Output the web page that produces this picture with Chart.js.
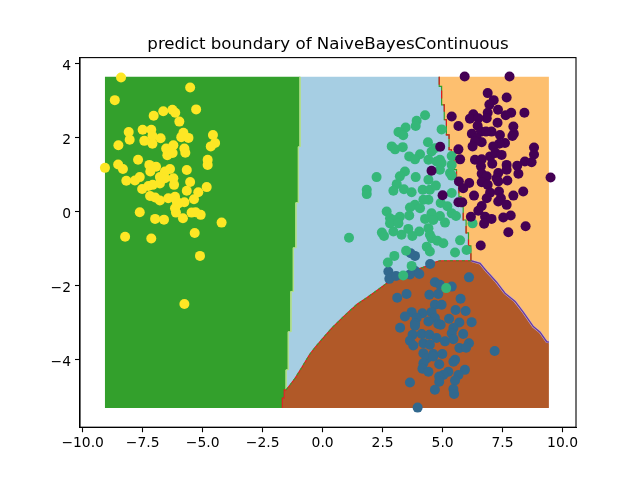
<!DOCTYPE html>
<html>
<head>
<meta charset="utf-8">
<title>predict boundary of NaiveBayesContinuous</title>
<script src="https://cdn.jsdelivr.net/npm/chart.js@4"></script>
<style>
    body { margin: 0; background: #fff; }
    canvas { display: block; }
</style>
</head>
<body>
<canvas id="graph_zone" width="640" height="480"></canvas>
<script>
// tick labels
const xTickValues = [-10, -7.5, -5, -2.5, 0, 2.5, 5, 7.5, 10];
const yTickValues = [-4, -2, 0, 2, 4];

// extent of the prediction grid
const gridLeft = -9.07;
const gridRight = 9.43;
const gridTop = 3.65;
const gridBottom = -5.30;

// decision boundaries
const greenBlueX = [-0.94, -0.94, -1.01, -1.01, -1.11, -1.11, -1.22, -1.22, -1.32, -1.32, -1.43, -1.43, -1.52, -1.52];
const greenBlueY = [3.65, 1.76, 1.76, 0.25, 0.25, -0.97, -0.97, -2.15, -2.15, -3.24, -3.24, -4.27, -4.27, -4.81];
const greenBrownX = [-1.52, -1.60, -1.60, -1.68, -1.68];
const greenBrownY = [-4.81, -4.81, -5.03, -5.03, -5.30];
const blueBrownX = [-1.52, -1.36, -1.15, -0.87, -0.55, -0.32, -0.01, 0.38, 0.73, 1.07, 1.45, 1.84, 2.25, 2.67, 3.22, 3.77, 4.27, 4.56, 4.89, 6.18];
const blueBrownY = [-4.81, -4.68, -4.50, -4.21, -3.86, -3.67, -3.43, -3.14, -2.92, -2.71, -2.49, -2.32, -2.13, -1.93, -1.76, -1.59, -1.48, -1.38, -1.32, -1.32];
const blueOrangeX = [4.86, 4.86, 4.96, 4.96, 5.07, 5.07, 5.16, 5.16, 5.27, 5.27, 5.37, 5.37, 5.47, 5.47, 5.58, 5.58, 5.68, 5.68, 5.77, 5.77, 5.86, 5.86, 5.98, 5.98, 6.08, 6.08, 6.18, 6.18];
const blueOrangeY = [3.65, 3.39, 3.39, 2.89, 2.89, 2.49, 2.49, 2.08, 2.08, 1.68, 1.68, 1.49, 1.49, 1.14, 1.14, 0.78, 0.78, 0.41, 0.41, 0.14, 0.14, -0.22, -0.22, -0.57, -0.57, -0.92, -0.92, -1.32];
const orangeBrownX = [6.18, 6.56, 6.84, 6.97, 7.25, 7.60, 8.02, 8.36, 8.78, 9.06, 9.34, 9.43];
const orangeBrownY = [-1.32, -1.39, -1.61, -1.70, -1.90, -2.20, -2.42, -2.71, -3.10, -3.25, -3.51, -3.52];

// samples of class 3
const yellowX = [-8.40, -5.52, -8.66, -5.27, -7.04, -6.64, -6.26, -6.14, -5.97, -8.08, -7.50, -7.14, -4.57, -5.80, -8.04, -7.43, -7.09, -7.09, -6.75, -5.89, -5.59, -4.48, -4.66, -8.51, -6.52, -6.22, -6.47, -6.25, -5.76, -5.72, -7.69, -4.79, -4.79, -9.07, -8.52, -8.32, -7.22, -6.94, -7.18, -6.36, -5.66, -6.57, -8.18, -7.82, -7.62, -6.78, -6.22, -6.57, -5.52, -4.83, -7.52, -7.26, -7.08, -6.78, -6.19, -5.66, -5.18, -5.36, -7.19, -6.98, -6.78, -6.43, -6.15, -6.08, -5.76, -6.15, -6.01, -6.11, -7.62, -5.46, -5.29, -5.08, -5.82, -6.98, -6.61, -4.21, -5.33, -8.23, -7.14, -5.11, -5.76];
const yellowY = [3.63, 3.36, 3.02, 2.77, 2.60, 2.72, 2.76, 2.68, 2.44, 2.16, 2.22, 2.22, 2.08, 2.14, 1.95, 1.92, 2.05, 1.84, 1.99, 2.02, 2.00, 1.86, 1.77, 1.80, 1.71, 1.80, 1.53, 1.59, 1.71, 1.60, 1.41, 1.41, 1.27, 1.19, 1.28, 1.16, 1.27, 1.22, 1.09, 1.16, 1.13, 1.09, 0.84, 0.85, 0.94, 0.94, 0.91, 0.91, 0.81, 0.67, 0.62, 0.70, 0.73, 0.77, 0.73, 0.57, 0.53, 0.34, 0.43, 0.39, 0.31, 0.37, 0.41, 0.28, 0.26, 0.10, 0.23, -0.02, -0.01, -0.02, -0.01, -0.08, -0.17, -0.19, -0.21, -0.29, -0.57, -0.67, -0.72, -1.19, -2.49];

// samples of class 0
const purpleX = [5.92, 7.79, 6.88, 7.67, 7.13, 6.95, 7.31, 8.41, 7.86, 7.63, 6.88, 6.28, 6.14, 6.84, 5.38, 5.66, 7.29, 6.49, 6.46, 7.95, 6.60, 7.04, 6.81, 7.39, 6.22, 6.42, 7.97, 7.91, 6.63, 6.35, 7.60, 7.36, 7.11, 6.25, 8.81, 5.66, 4.90, 8.81, 5.73, 6.35, 6.63, 6.98, 7.21, 7.46, 7.07, 7.67, 8.43, 8.71, 8.11, 6.60, 7.67, 6.63, 6.84, 7.32, 8.16, 7.25, 7.70, 6.63, 7.32, 9.50, 5.68, 6.11, 5.86, 6.88, 6.98, 7.35, 6.31, 5.00, 8.36, 7.95, 6.84, 7.43, 7.32, 7.67, 5.66, 5.82, 6.63, 6.49, 7.84, 7.53, 6.77, 7.04, 6.18, 6.73, 8.46, 7.74, 6.59, 4.54];
const purpleY = [3.66, 3.66, 3.21, 3.09, 3.02, 2.90, 2.76, 2.68, 2.68, 2.61, 2.68, 2.64, 2.52, 2.53, 2.58, 2.32, 2.41, 2.53, 2.33, 2.31, 2.17, 2.17, 2.17, 2.08, 2.11, 1.99, 2.11, 2.05, 1.88, 1.90, 1.86, 1.84, 1.77, 1.77, 1.74, 1.69, 1.76, 1.55, 1.42, 1.41, 1.42, 1.50, 1.59, 1.54, 1.30, 1.27, 1.36, 1.34, 1.25, 1.23, 1.14, 1.03, 0.96, 1.05, 1.03, 0.91, 0.85, 0.80, 0.82, 0.93, 0.82, 0.78, 0.64, 0.73, 0.52, 0.55, 0.44, 0.45, 0.55, 0.44, 0.37, 0.37, 0.28, 0.19, 0.26, 0.26, 0.16, 0.03, -0.10, -0.15, -0.13, -0.19, -0.13, -0.32, -0.39, -0.55, -0.91, 1.11];

// samples of class 2
const tealX = [4.27, 3.92, 3.88, 3.46, 3.16, 3.25, 3.36, 4.96, 4.39, 2.88, 3.02, 3.34, 4.54, 4.68, 4.06, 3.61, 3.85, 4.41, 5.38, 4.89, 4.75, 4.96, 5.38, 4.89, 5.31, 3.43, 3.22, 3.88, 2.25, 3.09, 4.41, 5.38, 2.95, 3.39, 3.71, 4.17, 4.47, 4.72, 1.84, 1.84, 4.41, 5.38, 4.20, 4.92, 3.85, 3.64, 5.20, 4.06, 2.67, 3.61, 4.54, 5.38, 5.56, 2.81, 3.22, 4.27, 4.89, 2.95, 4.61, 5.10, 2.81, 3.16, 2.95, 3.29, 3.57, 4.03, 3.74, 4.41, 4.47, 2.47, 2.56, 4.54, 4.78, 5.03, 5.73, 4.34, 3.48, 5.52, 2.99, 4.47, 1.10, 5.15, 6.25, 6.00, 2.72, 3.71, 3.36];
const tealY = [2.61, 2.46, 2.32, 2.28, 2.16, 2.14, 2.07, 2.23, 1.88, 1.77, 1.69, 1.75, 1.63, 1.72, 1.56, 1.50, 1.42, 1.41, 1.51, 1.41, 1.36, 1.32, 1.27, 1.14, 1.05, 1.09, 0.96, 0.94, 0.94, 0.75, 0.87, 0.98, 0.57, 0.61, 0.53, 0.60, 0.60, 0.71, 0.60, 0.48, 0.33, 0.51, 0.33, 0.24, 0.19, 0.12, 0.15, 0.10, 0.01, -0.10, -0.04, -0.04, -0.11, -0.17, -0.13, -0.19, -0.11, -0.22, -0.22, -0.29, -0.31, -0.31, -0.53, -0.62, -0.46, -0.53, -0.65, -0.44, -0.62, -0.56, -0.65, -0.71, -0.78, -0.85, -0.77, -0.94, -1.05, -1.10, -1.19, -1.07, -0.70, -2.06, -0.31, -1.03, -1.37, -1.46, -1.72];

// samples of class 1
const blueX = [3.85, 3.67, 4.48, 2.74, 2.78, 3.06, 3.85, 4.03, 3.64, 6.10, 4.68, 4.89, 5.38, 3.50, 3.11, 4.45, 4.82, 5.75, 4.68, 4.96, 4.54, 5.54, 5.96, 3.71, 4.16, 3.43, 3.92, 4.68, 4.41, 3.85, 5.27, 4.82, 4.92, 6.21, 5.70, 3.23, 3.85, 5.45, 3.75, 4.13, 4.45, 4.75, 3.64, 5.10, 5.38, 5.45, 5.86, 3.78, 4.20, 4.47, 6.10, 5.70, 5.98, 4.20, 4.61, 4.99, 4.34, 4.61, 5.52, 5.45, 4.20, 4.86, 4.16, 4.41, 5.93, 7.17, 5.24, 5.03, 4.86, 5.66, 5.52, 4.86, 3.64, 4.68, 5.45, 5.48, 3.96];
const blueY = [-1.19, -1.12, -1.41, -1.61, -1.81, -1.73, -1.59, -1.68, -1.69, -1.77, -1.90, -1.97, -2.02, -2.22, -2.32, -2.24, -2.22, -2.35, -2.51, -2.51, -2.71, -2.65, -2.68, -2.71, -2.74, -2.83, -2.87, -2.87, -2.96, -3.01, -2.89, -3.03, -3.05, -2.98, -2.99, -3.13, -3.08, -3.14, -3.32, -3.30, -3.32, -3.41, -3.48, -3.50, -3.28, -3.44, -3.30, -3.61, -3.55, -3.59, -3.55, -3.68, -3.67, -3.82, -3.84, -3.84, -3.96, -3.91, -4.00, -4.05, -4.09, -4.12, -4.24, -4.32, -4.27, -3.76, -4.32, -4.41, -4.45, -4.41, -4.56, -4.59, -4.61, -4.81, -4.79, -4.92, -5.29];

function toPoints(xs, ys) {
    return xs.map((x, i) => ({ x: x, y: ys[i] }));
}

function samples(xs, ys, color) {
    return {
        data: toPoints(xs, ys),
        showLine: false,
        pointRadius: 5,
        pointBorderWidth: 0,
        pointBackgroundColor: color
    };
}

function edge(xs, ys, color, width, dash) {
    return {
        data: toPoints(xs, ys),
        showLine: true,
        pointRadius: 0,
        borderColor: color,
        borderWidth: width,
        borderDash: dash || [],
        tension: 0
    };
}

function region(xs, ys, color) {
    return {
        data: toPoints(xs, ys),
        showLine: false,
        pointRadius: 0,
        regionColor: color
    };
}

// closes each region's points into a polygon, pixels come from the scales
const regionFill = {
    id: 'regionFill',
    beforeDatasetsDraw(chart) {
        const ctx = chart.ctx;
        chart.data.datasets.forEach((ds, i) => {
            if (!ds.regionColor) return;
            const pts = chart.getDatasetMeta(i).data;
            ctx.save();
            ctx.fillStyle = ds.regionColor;
            ctx.beginPath();
            pts.forEach((p, k) => k ? ctx.lineTo(p.x, p.y) : ctx.moveTo(p.x, p.y));
            ctx.closePath();
            ctx.fill();
            ctx.restore();
        });
    }
};

// top and right spines
const frame = {
    id: 'frame',
    afterDraw(chart) {
        const a = chart.chartArea;
        const ctx = chart.ctx;
        ctx.save();
        ctx.strokeStyle = '#000';
        ctx.lineWidth = 1.1;
        ctx.strokeRect(a.left, a.top, a.right - a.left, a.bottom - a.top);
        ctx.restore();
    }
};

const minusSign = s => String(s).replace('-', '\u2212');

const graph = document.querySelector('#graph_zone').getContext('2d');

const myChart = new Chart(graph, {
    type: 'scatter',
    plugins: [regionFill, frame],
    data: {
        // first dataset ends up on top
        datasets: [
            samples(yellowX, yellowY, '#fde725'),
            samples(purpleX, purpleY, '#440154'),
            samples(tealX, tealY, '#35b779'),
            samples(blueX, blueY, '#31688e'),
            edge(greenBrownX, greenBrownY, '#e31a1c', 1.1),
            edge(blueBrownX, blueBrownY, '#33a02c', 1.1, [3, 3]),
            edge(blueBrownX, blueBrownY, '#e31a1c', 1.1),
            edge(blueOrangeX, blueOrangeY, '#e31a1c', 1.2, [8, 8]),
            edge(blueOrangeX, blueOrangeY, '#33a02c', 1.2),
            edge(orangeBrownX, orangeBrownY, '#6a3d9a', 1.4),
            edge(orangeBrownX, orangeBrownY, '#cab2d6', 2.4),
            edge(greenBlueX, greenBlueY, '#b2df8a', 1),
            region(
                [gridLeft].concat(greenBlueX, greenBrownX, [gridLeft]),
                [gridTop].concat(greenBlueY, greenBrownY, [gridBottom]),
                '#33a02c'
            ),
            region(
                greenBlueX.concat(blueBrownX, blueOrangeX.slice().reverse()),
                greenBlueY.concat(blueBrownY, blueOrangeY.slice().reverse()),
                '#a6cee3'
            ),
            region(
                blueOrangeX.concat(orangeBrownX, [gridRight, gridRight]),
                blueOrangeY.concat(orangeBrownY, [orangeBrownY[orangeBrownY.length - 1], gridTop]),
                '#fdbf6f'
            ),
            region(
                blueBrownX.concat(orangeBrownX, [gridRight], greenBrownX.slice().reverse()),
                blueBrownY.concat(orangeBrownY, [gridBottom], greenBrownY.slice().reverse()),
                '#b15928'
            )
        ]
    },
    options: {
        responsive: false,
        animation: false,
        events: [],
        layout: {
            padding: { right: 64, left: 0, top: 0, bottom: 0 }
        },
        plugins: {
            legend: { display: false },
            tooltip: { enabled: false },
            title: {
                display: true,
                text: 'predict boundary of NaiveBayesContinuous',
                color: '#000',
                fullSize: false,
                font: { family: '"DejaVu Sans"', size: 16.67, weight: 'normal', lineHeight: 1.2 },
                padding: { top: 34.6, bottom: 3 }
            }
        },
        scales: {
            x: {
                type: 'linear',
                min: -10.11,
                max: 10.56,
                afterBuildTicks: scale => { scale.ticks = xTickValues.map(v => ({ value: v })); },
                afterFit: scale => { scale.height = 52.8; },
                border: { display: true, color: '#000', width: 1.1 },
                grid: { drawOnChartArea: false, drawTicks: true, tickLength: 5, tickColor: '#000', tickWidth: 1.1 },
                ticks: {
                    color: '#000',
                    padding: 3,
                    autoSkip: false,
                    maxRotation: 0,
                    font: { family: '"DejaVu Sans"', size: 13.89 },
                    callback: v => minusSign(v.toFixed(1))
                }
            },
            y: {
                type: 'linear',
                min: -5.82,
                max: 4.17,
                afterBuildTicks: scale => { scale.ticks = yTickValues.map(v => ({ value: v })); },
                afterFit: scale => { scale.width = 80; },
                border: { display: true, color: '#000', width: 1.1 },
                grid: { drawOnChartArea: false, drawTicks: true, tickLength: 5, tickColor: '#000', tickWidth: 1.1 },
                ticks: {
                    color: '#000',
                    padding: 4,
                    labelOffset: 3,
                    font: { family: '"DejaVu Sans"', size: 13.89 },
                    callback: v => minusSign(v)
                }
            }
        }
    }
});
</script>
</body>
</html>
